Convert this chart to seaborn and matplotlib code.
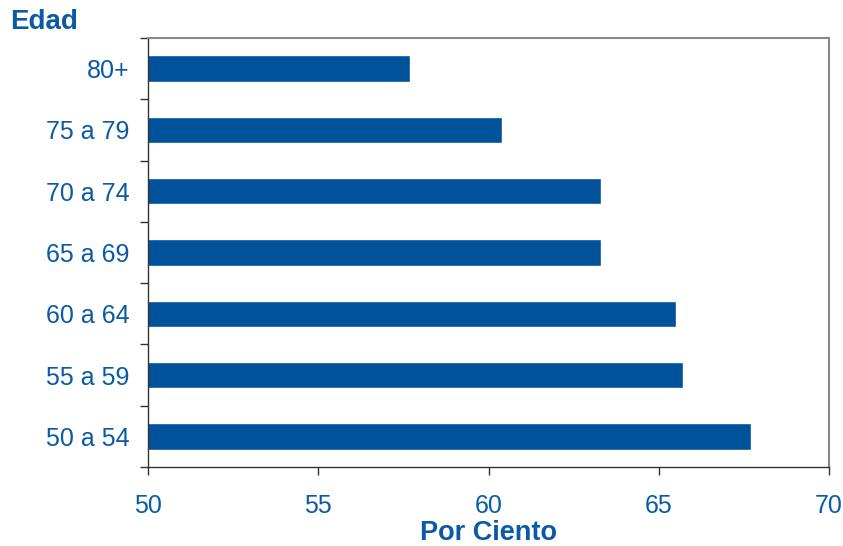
import numpy as np
import pandas as pd
import matplotlib
matplotlib.use("Agg")
import matplotlib.pyplot as plt
import seaborn as sns

categories = ["80+", "75 a 79", "70 a 74", "65 a 69", "60 a 64", "55 a 59", "50 a 54"]
values = [57.7, 60.4, 63.3, 63.3, 65.5, 65.7, 67.7]
x_ticks = [50, 55, 60, 65, 70]

sns.set_style("white")
plt.rcParams['font.family'] = ['Liberation Sans', 'DejaVu Sans']

bar_color = "#00529B"
text_color = "#0B5AA5"

df = pd.DataFrame({"Edad": categories, "Pct": values})

fig = plt.figure(figsize=(8.43, 5.46), dpi=100)
ax = fig.add_axes([148/843, 1-467/546, (829-148)/843, (467-38)/546])

sns.barplot(data=df, x="Pct", y="Edad", order=categories, color=bar_color,
            saturation=1, width=0.43, ax=ax)

ax.set_xlim(50, 70)
ax.set_ylim(6.5, -0.5)
ax.set_xticks(x_ticks)
ax.set_xticklabels([str(t) for t in x_ticks])

n = len(categories)
ax.set_yticks(np.arange(-0.5, n, 1.0))
ax.set_yticklabels([""] * (n + 1))
ax.set_yticks(np.arange(n), minor=True)
ax.set_yticklabels(categories, minor=True)

ax.tick_params(axis='y', which='major', direction='out', length=6, width=1, color="#333333", left=True)
ax.tick_params(axis='y', which='minor', length=0, pad=13.5, labelsize=18, labelcolor=text_color)
ax.tick_params(axis='x', which='major', direction='out', length=6, width=1, color="#333333",
               bottom=True, pad=13.5, labelsize=18, labelcolor=text_color)

for s in ["left", "bottom"]:
    ax.spines[s].set_color("#333333")
    ax.spines[s].set_linewidth(1.0)
for s in ["top", "right"]:
    ax.spines[s].set_color("#888888")
    ax.spines[s].set_linewidth(1.5)
    ax.spines[s].set_visible(True)

ax.set_ylabel("")
ax.set_xlabel("Por Ciento", fontsize=19.5, fontweight="bold", color=text_color, labelpad=1.5)
fig.text(10/843, 1-22/546, "Edad", fontsize=20, fontweight="bold", color=text_color,
         ha="left", va="center")

fig.savefig("out.png", dpi=100)
